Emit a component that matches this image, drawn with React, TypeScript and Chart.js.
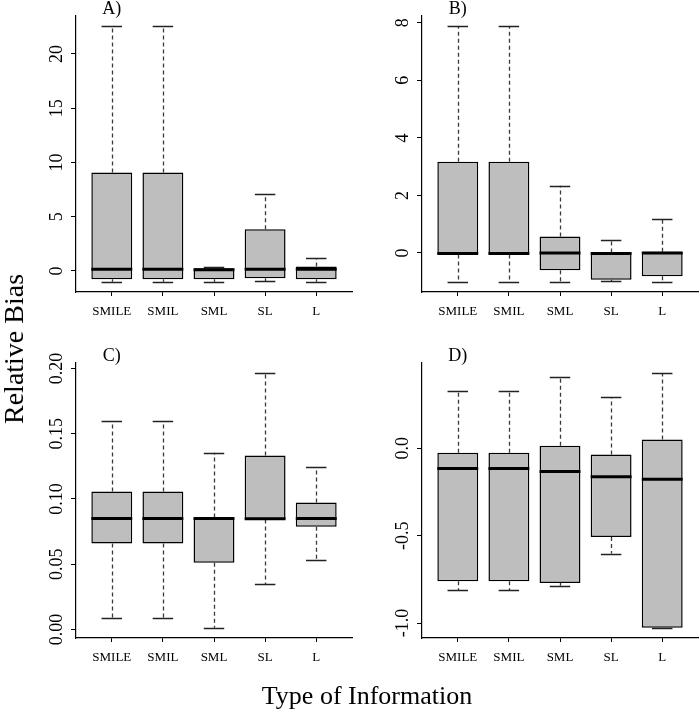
import React, { useEffect, useRef } from 'react';
import { Chart, registerables } from 'chart.js';

Chart.register(...registerables);

const categories = ['SMILE', 'SMIL', 'SML', 'SL', 'L'];
const categoryPositions = [1, 2, 3, 4, 5];

// Panel A
const aLow = [-1.0, -1.0, -1.0, -0.95, -1.0];
const aQ1 = [-0.77, -0.77, -0.77, -0.68, -0.77];
const aMed = [0.15, 0.15, 0.1, 0.15, 0.15];
const aQ3 = [9.08, 9.08, 0.25, 3.85, 0.4];
const aHigh = [22.55, 22.55, 0.33, 7.08, 1.17];
const aTicks = [0, 5, 10, 15, 20];
const aTickLabels = ['0', '5', '10', '15', '20'];

// Panel B
const bLow = [-1.0, -1.0, -1.0, -0.98, -1.0];
const bQ1 = [-0.05, -0.05, -0.6, -0.93, -0.81];
const bMed = [-0.02, -0.02, 0.0, -0.02, 0.0];
const bQ3 = [3.17, 3.17, 0.57, 0.02, 0.04];
const bHigh = [7.88, 7.88, 2.34, 0.44, 1.17];
const bTicks = [0, 2, 4, 6, 8];
const bTickLabels = ['0', '2', '4', '6', '8'];

// Panel C
const cLow = [0.0092, 0.0092, 0.0013, 0.0347, 0.0529];
const cQ1 = [0.0659, 0.0659, 0.0511, 0.0843, 0.0787];
const cMed = [0.0851, 0.0851, 0.0851, 0.0848, 0.0851];
const cQ3 = [0.1057, 0.1057, 0.0858, 0.1333, 0.0973];
const cHigh = [0.1596, 0.1596, 0.1354, 0.1964, 0.1244];
const cTicks = [0, 0.05, 0.1, 0.15, 0.2];
const cTickLabels = ['0.00', '0.05', '0.10', '0.15', '0.20'];

// Panel D
const dLow = [-0.813, -0.813, -0.787, -0.602, -1.027];
const dQ1 = [-0.76, -0.76, -0.77, -0.507, -1.027];
const dMed = [-0.116, -0.116, -0.133, -0.162, -0.177];
const dQ3 = [-0.025, -0.025, 0.015, -0.036, 0.051];
const dHigh = [0.33, 0.33, 0.41, 0.293, 0.43];
const dTicks = [-1, -0.5, 0];
const dTickLabels = ['-1.0', '-0.5', '0.0'];

const FONT = "'Liberation Serif', 'Times New Roman', serif";

type Panel = {
  title: string;
  low: number[];
  q1: number[];
  med: number[];
  q3: number[];
  high: number[];
  ticks: number[];
  tickLabels: string[];
  left: number;
  top: number;
  width: number;
  height: number;
  pad: { left: number; right: number; top: number; bottom: number };
};

const panels: Panel[] = [
  { title: 'A)', low: aLow, q1: aQ1, med: aMed, q3: aQ3, high: aHigh, ticks: aTicks, tickLabels: aTickLabels,
    left: 0, top: 0, width: 356, height: 340, pad: { left: 56, right: 4, top: 16, bottom: 8 } },
  { title: 'B)', low: bLow, q1: bQ1, med: bMed, q3: bQ3, high: bHigh, ticks: bTicks, tickLabels: bTickLabels,
    left: 350, top: 0, width: 350, height: 340, pad: { left: 52, right: 2, top: 16, bottom: 8 } },
  { title: 'C)', low: cLow, q1: cQ1, med: cMed, q3: cQ3, high: cHigh, ticks: cTicks, tickLabels: cTickLabels,
    left: 0, top: 345, width: 356, height: 368, pad: { left: 56, right: 4, top: 18, bottom: 35 } },
  { title: 'D)', low: dLow, q1: dQ1, med: dMed, q3: dQ3, high: dHigh, ticks: dTicks, tickLabels: dTickLabels,
    left: 350, top: 345, width: 350, height: 368, pad: { left: 52, right: 2, top: 18, bottom: 35 } },
];

function BoxPanel({ panel }: { panel: Panel }) {
  const ref = useRef<HTMLCanvasElement>(null);
  useEffect(() => {
    if (!ref.current) return;
    const lo = Math.min(...panel.low);
    const hi = Math.max(...panel.high);
    const ext = (hi - lo) * 0.04;

    const boxPlugin = {
      id: 'boxWhiskers',
      afterDatasetsDraw(chart: any) {
        const ctx = chart.ctx as CanvasRenderingContext2D;
        const xs = chart.scales.x;
        const ys = chart.scales.y;
        const area = chart.chartArea;
        const meta = chart.getDatasetMeta(0);
        ctx.save();
        categoryPositions.forEach((_, i) => {
          const el = meta.data[i];
          const x = el.x;
          const w = el.width;
          const px = Math.round(x) + 0.5;
          const yLow = ys.getPixelForValue(panel.low[i]);
          const yQ1 = ys.getPixelForValue(panel.q1[i]);
          const yMed = ys.getPixelForValue(panel.med[i]);
          const yQ3 = ys.getPixelForValue(panel.q3[i]);
          const yHigh = ys.getPixelForValue(panel.high[i]);
          ctx.strokeStyle = '#3a3a3a';
          ctx.lineWidth = 1.3;
          ctx.setLineDash([4, 3]);
          ctx.beginPath();
          ctx.moveTo(px, yQ3);
          ctx.lineTo(px, yHigh);
          ctx.moveTo(px, yQ1);
          ctx.lineTo(px, yLow);
          ctx.stroke();
          ctx.setLineDash([]);
          ctx.strokeStyle = '#222';
          ctx.lineWidth = 1.3;
          ctx.beginPath();
          const sh = Math.round(yHigh) + 0.5;
          const sl = Math.round(yLow) + 0.5;
          ctx.moveTo(x - w / 4, sh);
          ctx.lineTo(x + w / 4, sh);
          ctx.moveTo(x - w / 4, sl);
          ctx.lineTo(x + w / 4, sl);
          ctx.stroke();
          ctx.strokeStyle = '#000';
          ctx.lineWidth = 3;
          ctx.beginPath();
          ctx.moveTo(x - w / 2, yMed);
          ctx.lineTo(x + w / 2, yMed);
          ctx.stroke();
        });
        // rotated y tick labels
        ctx.font = `18px ${FONT}`;
        ctx.fillStyle = '#000';
        ctx.textAlign = 'center';
        ctx.textBaseline = 'middle';
        panel.ticks.forEach((v, i) => {
          const y = ys.getPixelForValue(v);
          ctx.save();
          ctx.translate(area.left - 19, y);
          ctx.rotate(-Math.PI / 2);
          ctx.fillText(panel.tickLabels[i], 0, 0);
          ctx.restore();
        });
        // panel title
        ctx.textBaseline = 'alphabetic';
        ctx.fillText(panel.title, xs.getPixelForValue(categoryPositions[0]), area.top - 2);
        ctx.restore();
      },
    };

    const chart = new Chart(ref.current, {
      type: 'bar',
      data: {
        datasets: [
          {
            data: categoryPositions.map((p, i) => ({ x: p, y: [panel.q1[i], panel.q3[i]] })) as any,
            backgroundColor: '#bebebe',
            borderColor: '#000',
            borderWidth: 1.5,
            borderSkipped: false,
            barPercentage: 0.8,
            categoryPercentage: 1,
          },
        ],
      },
      options: {
        animation: false,
        responsive: false,
        maintainAspectRatio: false,
        layout: { padding: panel.pad },
        plugins: { legend: { display: false }, tooltip: { enabled: false }, title: { display: false } },
        scales: {
          x: {
            type: 'linear',
            min: 0.3,
            max: 5.7,
            offset: false,
            afterBuildTicks: (s: any) => {
              s.ticks = categoryPositions.map((v) => ({ value: v }));
            },
            afterFit: (s: any) => {
              s.height = 40;
            },
            ticks: {
              autoSkip: false,
              maxRotation: 0,
              minRotation: 0,
              padding: 8,
              color: '#000',
              font: { family: FONT, size: 13 },
              callback: (v: any) => categories[categoryPositions.indexOf(Number(v))] ?? '',
            },
            grid: { display: true, drawOnChartArea: false, drawTicks: true, tickLength: 4, color: '#000', offset: false },
            border: { display: true, color: '#000', width: 1.2 },
          },
          y: {
            type: 'linear',
            min: lo - ext,
            max: hi + ext,
            beginAtZero: false,
            afterBuildTicks: (s: any) => {
              s.ticks = panel.ticks.map((v) => ({ value: v }));
            },
            afterFit: (s: any) => {
              s.width = 20;
            },
            ticks: { display: false },
            grid: { display: true, drawOnChartArea: false, drawTicks: true, tickLength: 5, color: '#000' },
            border: { display: true, color: '#000', width: 1.2 },
          },
        },
      },
      plugins: [boxPlugin],
    });
    return () => chart.destroy();
  }, [panel]);

  return (
    <canvas
      ref={ref}
      width={panel.width}
      height={panel.height}
      style={{ position: 'absolute', left: panel.left, top: panel.top, width: panel.width, height: panel.height }}
    />
  );
}

export default function App() {
  return (
    <div style={{ position: 'absolute', left: 0, top: 0, width: 700, height: 713, background: '#fff', overflow: 'hidden' }}>
      {panels.map((p) => (
        <BoxPanel key={p.title} panel={p} />
      ))}
      <div
        style={{
          position: 'absolute',
          left: 14,
          top: 349,
          transform: 'translate(-50%, -50%) rotate(-90deg)',
          whiteSpace: 'nowrap',
          fontFamily: FONT,
          fontSize: 28,
          lineHeight: 1,
          color: '#000',
        }}
      >
        Relative Bias
      </div>
      <div
        style={{
          position: 'absolute',
          left: 367,
          top: 683,
          transform: 'translateX(-50%)',
          whiteSpace: 'nowrap',
          fontFamily: FONT,
          fontSize: 26,
          lineHeight: 1,
          color: '#000',
        }}
      >
        Type of Information
      </div>
    </div>
  );
}
